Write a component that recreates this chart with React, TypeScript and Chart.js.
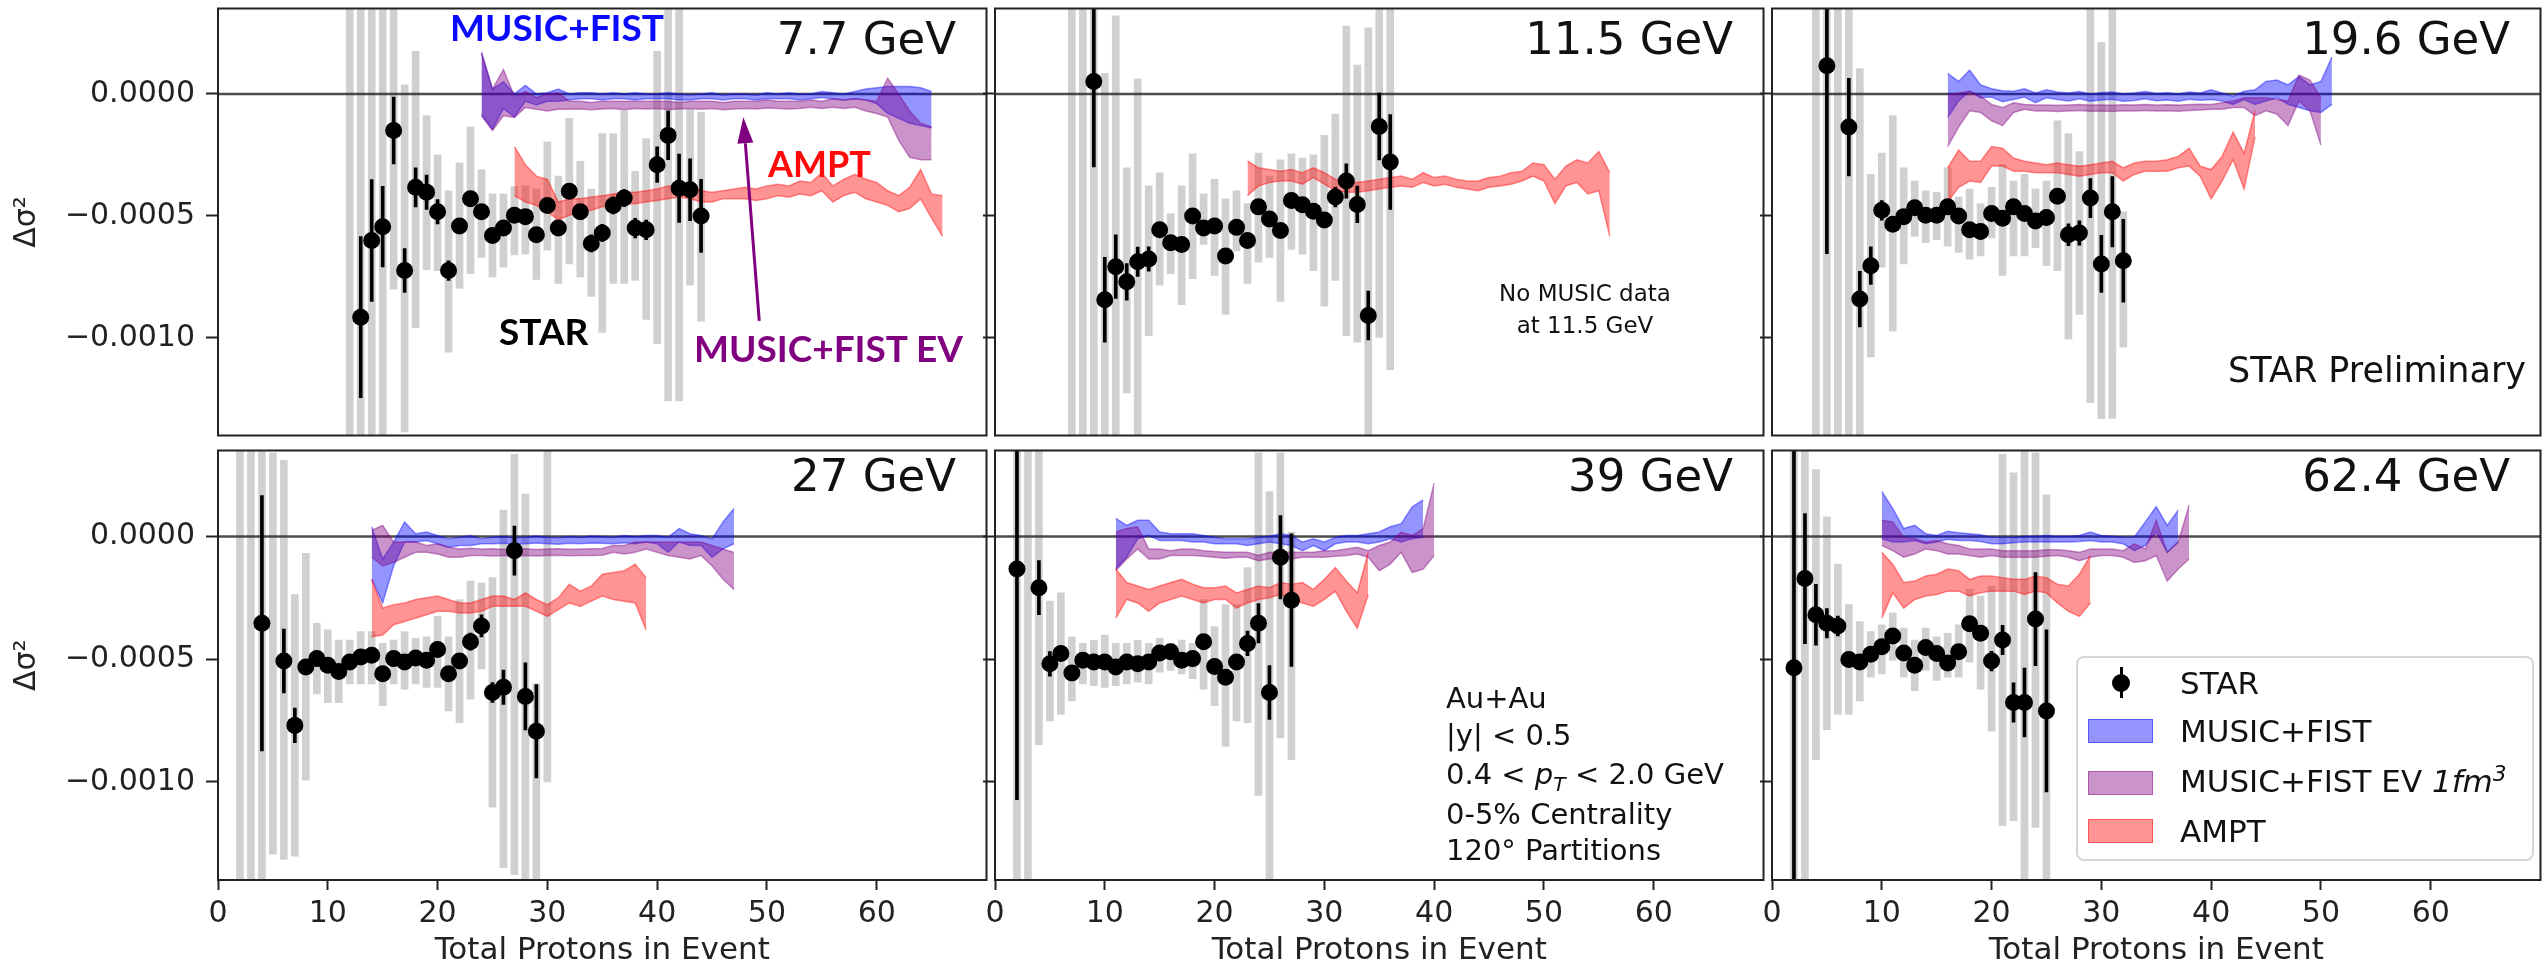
import React, { useEffect, useRef } from "react";
import { Chart, registerables } from "chart.js";
Chart.register(...registerables);

// ---------- axes ----------
const U = 1e-4; // all Δσ² values below are written in units of 1e-4
const X_TICKS = [0, 10, 20, 30, 40, 50, 60];
const Y_TICKS = [0, -0.0005, -0.001];
const X_RANGE = [0, 70];
const Y_RANGE = [-0.0014, 0.00035];

// ---------- 7.7 GeV ----------
const E77_X = [12,13,14,15,16,17,18,19,20,21,22,23,24,25,26,27,28,29,30,31,32,33,34,35,36,37,38,39,40,41,42,43,44];
const E77_Y = [null,-9.15,-6.01,-5.44,-1.5,-7.24,-3.83,-4.03,-4.83,-7.24,-5.41,-4.3,-4.83,-5.8,-5.5,-4.97,-5.03,-5.77,-4.57,-5.5,-3.99,-4.83,-6.13,-5.7,-4.57,-4.27,-5.5,-5.57,-2.9,-1.7,-3.87,-3.93,-5.0];
const E77_STAT = [0,3.3,2.5,1.65,1.37,0.9,0.8,0.7,0.5,0.4,0.3,0.3,0.3,0.3,0.3,0.3,0.3,0.3,0.3,0.3,0.3,0.3,0.35,0.35,0.35,0.35,0.4,0.4,0.73,1.0,1.4,1.27,1.5];
const E77_SYS_TOP = [3.5,3.5,3.5,3.5,3.5,0.37,1.74,-0.89,-2.5,-3.97,-2.83,-1.36,-3.1,-4.1,-4.1,-3.8,-3.77,-3.9,-1.96,-3.37,-1.0,-2.76,-3.9,-1.63,-1.63,-0.69,-3.17,-1.83,1.74,3.5,3.5,-0.63,-0.76];
const E77_SYS_BOT = [-14,-14,-14,-14,-8.0,-13.85,-9.58,-7.2,-7.24,-10.58,-7.97,-7.37,-6.7,-7.5,-7.1,-6.6,-6.57,-7.6,-6.4,-7.77,-6.97,-7.5,-8.3,-9.78,-7.77,-7.77,-7.64,-9.24,-10.24,-12.58,-12.58,-7.84,-9.31];
const E77_BLUE_START = 24;
const E77_BLUE_HI = [1.7,0.2,0.5,0.0,0.35,0.0,0.05,0.2,0.0,0.05,0.05,0.0,0.05,0.0,0.05,0.0,0.0,0.05,0.0,-0.05,0.0,0.05,-0.05,0.0,0.0,-0.05,0.05,0.0,0.05,0.0,0.0,0.1,0.05,0.0,0.1,0.2,0.25,0.3,0.3,0.3,0.25,0.1];
const E77_BLUE_LO = [-0.85,-1.45,-0.6,-0.95,-0.3,-0.45,-0.3,-0.3,-0.25,-0.2,-0.2,-0.25,-0.2,-0.2,-0.25,-0.2,-0.2,-0.2,-0.25,-0.25,-0.2,-0.2,-0.25,-0.2,-0.2,-0.25,-0.2,-0.2,-0.2,-0.25,-0.2,-0.15,-0.2,-0.25,-0.2,-0.25,-0.4,-0.8,-1.0,-1.2,-1.3,-1.4];
const E77_EV_START = 24;
const E77_EV_HI = [1.7,0.2,1.0,-0.1,0.1,-0.15,0.0,0.05,-0.3,-0.3,-0.35,-0.3,-0.3,-0.3,-0.3,-0.3,-0.3,-0.3,-0.35,-0.3,-0.3,-0.3,-0.35,-0.3,-0.3,-0.3,-0.25,-0.3,-0.3,-0.3,-0.25,-0.3,-0.2,-0.25,-0.2,-0.25,-0.3,0.64,0.0,-0.7,-1.2,-1.35];
const E77_EV_LO = [-0.9,-1.5,-0.9,-0.97,-0.56,-0.63,-0.7,-0.63,-0.63,-0.62,-0.65,-0.62,-0.6,-0.65,-0.6,-0.62,-0.6,-0.65,-0.62,-0.6,-0.63,-0.6,-0.65,-0.62,-0.6,-0.62,-0.58,-0.6,-0.62,-0.6,-0.55,-0.6,-0.55,-0.6,-0.55,-0.7,-0.8,-0.95,-1.9,-2.6,-2.7,-2.7];
const E77_AMPT_START = 27;
const E77_AMPT_HI = [-2.16,-2.9,-3.37,-3.5,-4.43,-4.3,-4.3,-4.23,-4.17,-4.1,-4.03,-4.03,-3.97,-3.9,-3.77,-3.77,-3.83,-3.97,-4.03,-3.97,-3.9,-3.83,-3.9,-3.77,-3.7,-3.77,-3.57,-3.63,-3.23,-3.77,-3.5,-3.3,-3.5,-3.63,-3.97,-4.17,-3.83,-3.1,-4.1,-4.17];
const E77_AMPT_LO = [-4.17,-4.43,-4.57,-4.83,-5.17,-4.97,-4.83,-4.77,-4.63,-4.57,-4.5,-4.5,-4.43,-4.37,-4.3,-4.23,-4.3,-4.43,-4.43,-4.3,-4.3,-4.3,-4.37,-4.3,-4.17,-4.23,-4.1,-4.17,-3.97,-4.43,-4.17,-4.03,-4.3,-4.43,-4.57,-4.83,-4.7,-4.3,-5.1,-5.84];

// ---------- 11.5 GeV ----------
const E115_X = [7,8,9,10,11,12,13,14,15,16,17,18,19,20,21,22,23,24,25,26,27,28,29,30,31,32,33,34,35,36];
const E115_Y = [null,null,0.51,-8.44,-7.08,-7.7,-6.88,-6.77,-5.57,-6.1,-6.17,-5.0,-5.5,-5.41,-6.64,-5.47,-6.01,-4.63,-5.13,-5.6,-4.37,-4.54,-4.81,-5.17,-4.23,-3.57,-4.53,-9.08,-1.34,-2.79];
const E115_STAT = [0,0,3.5,1.74,1.3,0.75,0.6,0.5,0.3,0.3,0.3,0.3,0.3,0.3,0.3,0.3,0.3,0.3,0.3,0.3,0.3,0.3,0.3,0.3,0.4,0.7,0.75,1.0,1.37,1.94];
const E115_SYS_TOP = [3.5,3.5,3.5,0.84,3.2,-3.03,0.61,-3.77,-3.23,-4.9,-3.77,-2.46,-4.1,-3.5,-4.3,-3.97,-4.5,-2.43,-3.37,-2.7,-2.46,-2.63,-2.5,-1.7,-0.83,2.78,1.18,2.71,3.5,3.5];
const E115_SYS_BOT = [-14,-14,-14,-14,-14,-12.25,-14,-9.91,-7.84,-7.37,-8.64,-7.57,-6.17,-7.44,-9.04,-6.44,-7.77,-6.9,-6.7,-8.5,-6.37,-6.57,-7.24,-8.7,-7.64,-9.91,-10.18,-14,-9.98,-11.3];
const E115_AMPT_START = 23;
const E115_AMPT_HI = [-2.74,-3.03,-3.1,-3.17,-3.1,-3.23,-3.03,-3.23,-3.5,-3.57,-3.63,-3.57,-3.5,-3.43,-3.37,-3.5,-3.23,-3.43,-3.37,-3.5,-3.57,-3.57,-3.43,-3.37,-3.23,-3.17,-2.83,-2.9,-3.5,-2.96,-2.7,-2.83,-2.36,-3.23];
const E115_AMPT_LO = [-4.17,-3.77,-3.63,-3.57,-3.57,-3.7,-3.43,-3.7,-3.97,-4.03,-4.03,-3.97,-3.9,-3.83,-3.77,-3.83,-3.63,-3.77,-3.7,-3.83,-3.9,-3.97,-3.83,-3.77,-3.7,-3.57,-3.37,-3.57,-4.5,-3.77,-3.63,-4.1,-3.97,-5.84];

// ---------- 19.6 GeV ----------
const E196_X = [4,5,6,7,8,9,10,11,12,13,14,15,16,17,18,19,20,21,22,23,24,25,26,27,28,29,30,31,32];
const E196_Y = [null,1.15,null,-1.36,-8.41,-7.04,-4.77,-5.34,-5.03,-4.67,-4.97,-4.97,-4.63,-5.0,-5.57,-5.64,-4.9,-5.1,-4.63,-4.9,-5.21,-5.07,-4.19,-5.77,-5.7,-4.27,-6.97,-4.83,-6.84];
const E196_STAT = [0,7.7,0,2.0,1.14,0.77,0.4,0.3,0.3,0.3,0.3,0.3,0.3,0.3,0.3,0.3,0.3,0.3,0.3,0.3,0.3,0.3,0.3,0.45,0.5,0.8,1.17,1.44,1.7];
const E196_SYS_TOP = [3.5,3.5,3.5,3.5,1.04,-3.3,-2.43,-0.89,-3.03,-3.57,-3.97,-4.03,-3.03,-4.23,-3.9,-4.5,-3.83,-2.9,-3.57,-3.3,-3.9,-3.57,-1.1,-1.63,-2.36,3.5,2.11,3.5,-4.83];
const E196_SYS_BOT = [-14,-14,-14,-14,-14,-10.78,-7.1,-9.71,-6.97,-5.84,-6.1,-5.97,-6.24,-6.5,-6.77,-6.64,-5.9,-7.44,-6.64,-6.64,-6.3,-7.04,-7.24,-10.04,-9.04,-12.65,-13.31,-13.3,-10.38];
const E196_BLUE_START = 16;
const E196_BLUE_HI = [0.84,0.51,0.97,0.37,0.21,0.13,0.11,0.21,0.04,0.17,0.08,0.04,0.1,0.0,0.05,0.08,0.0,0.04,0.1,0.02,0.05,0.0,0.08,0.04,0.17,0.04,-0.09,0.11,0.17,0.51,0.57,0.37,0.71,0.37,0.51,1.51];
const E196_BLUE_LO = [-0.96,-0.29,0.11,-0.16,-0.13,-0.32,-0.23,-0.13,-0.36,-0.16,-0.23,-0.29,-0.2,-0.3,-0.25,-0.22,-0.3,-0.27,-0.2,-0.28,-0.25,-0.3,-0.22,-0.26,-0.23,-0.29,-0.43,-0.23,-0.43,-0.29,-0.16,-0.43,-0.56,-0.69,-0.76,-0.43];
const E196_EV_START = 16;
const E196_EV_HI = [-0.03,0.04,0.11,-0.09,-0.43,-0.56,-0.36,-0.43,-0.45,-0.45,-0.47,-0.45,-0.43,-0.46,-0.45,-0.47,-0.44,-0.45,-0.43,-0.45,-0.44,-0.46,-0.43,-0.42,-0.43,-0.36,-0.29,-0.16,-0.16,-0.16,-0.23,-0.29,0.77,0.57,-0.16];
const E196_EV_LO = [-2.16,-1.36,-0.69,-0.76,-1.1,-1.3,-0.76,-0.63,-0.7,-0.7,-0.72,-0.7,-0.68,-0.71,-0.7,-0.72,-0.69,-0.7,-0.68,-0.7,-0.69,-0.71,-0.68,-0.66,-0.63,-0.63,-0.56,-0.56,-0.89,-0.69,-0.83,-1.3,-0.29,-0.69,-2.1];
const E196_AMPT_START = 16;
const E196_AMPT_HI = [-3.03,-2.3,-2.76,-2.76,-2.16,-2.23,-2.63,-2.76,-2.83,-2.9,-2.83,-2.9,-2.96,-2.9,-2.83,-2.76,-3.03,-2.83,-2.76,-2.76,-2.7,-2.56,-2.23,-2.96,-3.1,-2.56,-1.56,-2.43,-0.69];
const E196_AMPT_LO = [-4.43,-3.83,-3.57,-3.63,-2.96,-2.96,-3.17,-3.17,-3.23,-3.23,-3.23,-3.3,-3.37,-3.3,-3.23,-3.23,-3.57,-3.3,-3.17,-3.17,-3.17,-3.03,-2.96,-3.37,-4.3,-3.57,-2.7,-3.9,-1.76];

// ---------- 27 GeV ----------
const E27_X = [2,3,4,5,6,7,8,9,10,11,12,13,14,15,16,17,18,19,20,21,22,23,24,25,26,27,28,29,30];
const E27_Y = [null,null,-3.54,null,-5.08,-7.7,-5.32,-4.98,-5.25,-5.5,-5.12,-4.91,-4.84,-5.6,-4.98,-5.12,-4.95,-5.05,-4.61,-5.6,-5.08,-4.29,-3.65,-6.36,-6.15,-0.58,-6.52,-7.94,null];
const E27_STAT = [0,0,5.2,0,1.3,0.7,0.3,0.3,0.3,0.3,0.3,0.3,0.3,0.3,0.3,0.3,0.3,0.3,0.3,0.3,0.3,0.35,0.45,0.4,0.7,1.0,1.37,1.9,0];
const E27_SYS_TOP = [3.5,3.5,3.5,3.41,3.1,-2.37,-0.69,-3.54,-3.81,-4.22,-4.22,-3.88,-3.88,-4.36,-4.22,-3.88,-4.15,-4.09,-3.26,-4.09,-2.57,-1.82,-1.9,-1.68,1.07,3.34,1.72,-6.01,3.48];
const E27_SYS_BOT = [-14,-14,-14,-12.95,-13.16,-13.03,-9.93,-6.42,-6.77,-6.77,-6.01,-6.01,-6.01,-6.9,-6.01,-6.22,-6.01,-6.15,-6.15,-7.11,-7.59,-6.63,-5.4,-11.03,-13.5,-13.78,-14,-14,-10.0];
const E27_BLUE_START = 14;
const E27_BLUE_HI = [0.39,-0.92,-0.23,0.59,0.11,0.18,0.04,-0.1,-0.03,0.04,-0.1,-0.03,0.0,-0.05,-0.03,0.02,-0.03,-0.05,0.0,-0.03,0.02,0.0,-0.03,0.04,0.0,0.04,0.04,-0.03,0.32,0.11,0.04,-0.1,0.59,1.14];
const E27_BLUE_LO = [-1.75,-2.71,-1.2,-0.23,-0.23,-0.17,-0.3,-0.44,-0.37,-0.37,-0.3,-0.3,-0.28,-0.32,-0.3,-0.27,-0.3,-0.32,-0.28,-0.3,-0.27,-0.28,-0.3,-0.26,-0.3,-0.23,-0.3,-0.65,-0.23,-0.37,-0.37,-0.85,-0.51,-0.3];
const E27_EV_START = 14;
const E27_EV_HI = [0.25,0.45,-0.23,-0.23,-0.23,-0.37,-0.3,-0.44,-0.51,-0.48,-0.51,-0.5,-0.52,-0.51,-0.5,-0.53,-0.51,-0.5,-0.52,-0.51,-0.5,-0.49,-0.37,-0.37,-0.23,-0.23,-0.23,-0.23,-0.23,-0.23,-0.23,-0.37,-0.51,-0.65];
const E27_EV_LO = [-0.85,-1.2,-1.06,-0.85,-0.65,-0.65,-0.72,-0.85,-0.85,-0.78,-0.78,-0.8,-0.78,-0.79,-0.78,-0.8,-0.78,-0.77,-0.79,-0.78,-0.78,-0.77,-0.65,-0.72,-0.65,-0.51,-0.65,-0.78,-0.85,-0.92,-0.78,-1.2,-1.75,-2.16];
const E27_AMPT_START = 14;
const E27_AMPT_HI = [-1.75,-2.92,-2.78,-2.71,-2.57,-2.5,-2.43,-2.57,-2.71,-2.71,-2.57,-2.43,-2.43,-2.57,-2.3,-2.57,-2.78,-2.5,-1.95,-2.23,-2.02,-1.54,-1.47,-1.4,-1.13,-1.68];
const E27_AMPT_LO = [-4.09,-4.02,-3.6,-3.47,-3.33,-3.19,-3.05,-3.05,-3.12,-3.12,-3.05,-2.85,-2.85,-2.85,-2.85,-3.05,-3.26,-2.98,-2.71,-2.85,-2.64,-2.43,-2.57,-2.64,-2.71,-3.81];

// ---------- 39 GeV ----------
const E39_X = [2,3,4,5,6,7,8,9,10,11,12,13,14,15,16,17,18,19,20,21,22,23,24,25,26,27];
const E39_Y = [-1.33,null,-2.09,-5.19,-4.77,-5.57,-5.05,-5.12,-5.12,-5.32,-5.12,-5.19,-5.12,-4.75,-4.7,-5.05,-4.98,-4.29,-5.3,-5.74,-5.12,-4.36,-3.54,-6.36,-0.85,-2.6];
const E39_STAT = [9.4,0,1.1,0.5,0.3,0.3,0.3,0.3,0.3,0.3,0.3,0.3,0.3,0.3,0.3,0.3,0.3,0.3,0.3,0.3,0.3,0.5,0.8,1.1,1.7,2.7];
const E39_SYS_TOP = [3.5,3.5,3.48,-2.64,-2.3,-4.09,-4.36,-4.23,-4.02,-4.36,-4.36,-4.23,-4.36,-4.15,-4.36,-4.22,-4.36,-2.57,-3.67,-2.78,-2.78,-1.27,3.41,1.83,3.41,0.18];
const E39_SYS_BOT = [-14,-14,-8.49,-7.52,-7.25,-6.7,-6.01,-6.08,-6.15,-6.08,-6.01,-5.94,-6.01,-5.53,-5.46,-5.6,-5.8,-6.22,-6.9,-8.56,-7.52,-7.59,-10.55,-14,-8.21,-9.1];
const E39_BLUE_START = 11;
const E39_BLUE_HI = [0.73,0.45,0.66,0.66,0.18,0.11,0.11,0.11,0.04,-0.03,-0.1,-0.1,-0.1,-0.03,0.01,0.11,0.04,-0.23,-0.1,-0.23,-0.03,0.04,0.04,0.11,0.18,0.39,0.52,1.21,1.49];
const E39_BLUE_LO = [-1.33,-0.85,-0.1,0.04,-0.17,-0.17,-0.17,-0.23,-0.23,-0.3,-0.3,-0.3,-0.37,-0.3,-0.23,-0.3,-0.37,-0.58,-0.37,-0.58,-0.3,-0.23,-0.23,-0.3,-0.23,-0.1,-0.23,-0.1,-0.03];
const E39_EV_START = 11;
const E39_EV_HI = [0.18,0.32,0.39,-0.51,-0.51,-0.58,-0.51,-0.51,-0.58,-0.62,-0.65,-0.65,-0.65,-0.78,-0.65,-0.67,-0.65,-0.65,-0.65,-0.58,-0.58,-0.51,-0.44,-0.58,-0.37,-0.23,0.18,0.04,0.32,2.17];
const E39_EV_LO = [-1.4,-0.92,-0.51,-0.92,-0.92,-0.78,-0.78,-0.78,-0.81,-0.85,-0.89,-0.85,-0.85,-0.99,-0.92,-0.92,-0.92,-0.85,-0.85,-0.85,-0.81,-0.78,-0.72,-0.85,-1.4,-1.13,-0.65,-1.47,-1.33,-0.78];
const E39_AMPT_START = 11;
const E39_AMPT_HI = [-1.33,-1.88,-2.02,-2.16,-2.02,-1.88,-1.75,-1.95,-2.09,-2.09,-2.02,-2.3,-2.16,-2.02,-2.09,-1.88,-1.95,-1.88,-2.16,-1.75,-1.27,-1.82,-2.3,-0.65];
const E39_AMPT_LO = [-3.33,-2.57,-2.71,-3.05,-2.71,-2.57,-2.43,-2.57,-2.71,-2.57,-2.57,-2.92,-2.71,-2.57,-2.5,-2.37,-2.57,-2.71,-2.85,-2.57,-2.23,-3.05,-3.74,-2.37];

// ---------- 62.4 GeV ----------
const E624_X = [2,3,4,5,6,7,8,9,10,11,12,13,14,15,16,17,18,19,20,21,22,23,24,25];
const E624_Y = [-5.35,-1.72,-3.19,-3.54,-3.65,-5.02,-5.12,-4.8,-4.5,-4.06,-4.75,-5.25,-4.53,-4.77,-5.16,-4.7,-3.56,-3.95,-5.08,-4.22,-6.77,-6.77,-3.37,-7.11];
const E624_STAT = [9.0,2.65,1.24,0.6,0.4,0.3,0.3,0.3,0.3,0.3,0.3,0.3,0.3,0.3,0.3,0.3,0.3,0.3,0.4,0.6,0.8,1.4,1.9,3.3];
const E624_SYS_TOP = [3.5,3.5,2.72,0.8,-1.13,-2.78,-3.47,-3.88,-3.6,-3.12,-3.74,-4.22,-3.74,-4.09,-3.95,-3.6,-2.16,-2.43,-2.02,3.34,2.59,3.5,3.41,1.69];
const E624_SYS_BOT = [-14,-14,-9.1,-7.87,-7.25,-7.25,-6.7,-5.74,-5.6,-5.05,-5.74,-6.29,-5.46,-5.87,-5.74,-5.74,-5.12,-6.22,-7.94,-11.79,-11.58,-14,-11.86,-14];
const E624_BLUE_START = 10;
const E624_BLUE_HI = [1.83,1.14,0.32,0.45,0.11,0.04,0.21,0.15,0.11,0.07,-0.03,-0.03,-0.03,0.01,0.01,0.04,0.01,0.01,0.04,0.18,0.04,0.01,-0.03,-0.03,0.59,1.21,0.45,1.07];
const E624_BLUE_LO = [-0.1,-0.23,-0.23,-0.17,-0.3,-0.23,-0.12,-0.17,-0.17,-0.21,-0.3,-0.3,-0.26,-0.23,-0.23,-0.23,-0.23,-0.23,-0.21,-0.17,-0.23,-0.23,-0.3,-0.58,-0.37,0.18,-0.65,-0.23];
const E624_EV_START = 10;
const E624_EV_HI = [0.66,0.59,-0.03,-0.1,-0.23,-0.17,-0.3,-0.37,-0.51,-0.51,-0.51,-0.58,-0.58,-0.58,-0.58,-0.54,-0.54,-0.58,-0.65,-0.51,-0.51,-0.51,-0.58,-0.3,-0.51,0.66,-0.65,-0.23,1.28];
const E624_EV_LO = [-0.37,-0.58,-0.85,-0.72,-0.51,-0.58,-0.72,-0.72,-0.78,-0.85,-0.78,-0.85,-0.85,-0.85,-0.85,-0.81,-0.78,-0.85,-0.99,-0.85,-0.78,-0.78,-0.85,-1.06,-0.99,-0.78,-1.82,-1.33,-0.92];
const E624_AMPT_START = 10;
const E624_AMPT_HI = [-0.65,-1.13,-1.88,-1.82,-1.61,-1.54,-1.33,-1.4,-1.75,-1.61,-1.61,-1.68,-1.75,-1.75,-1.61,-1.68,-1.95,-2.02,-1.54,-0.78];
const E624_AMPT_LO = [-3.33,-2.3,-2.92,-2.57,-2.43,-2.37,-2.23,-2.23,-2.43,-2.3,-2.23,-2.23,-2.23,-2.37,-2.23,-2.3,-2.71,-3.05,-3.26,-2.71];

// annotation arrow in 7.7 GeV panel (x, Δσ²/1e-4)
const ARROW_FROM = [49.3, -9.3];
const ARROW_TO = [47.85, -0.96];

// ---------- styles ----------
const BLUE = "rgba(0,0,255,0.42)";
const PURPLE = "rgba(128,0,128,0.42)";
const RED = "rgba(255,0,0,0.42)";
const SYS_GREY = "rgba(150,150,150,0.45)";
const DEJAVU = "'DejaVu Sans', sans-serif";
const LATO = "Lato, 'Open Sans', sans-serif";

Chart.defaults.font.family = DEJAVU;

type Band = { start: number; hi: number[]; lo: number[]; color: string; order: number };
type PanelDef = {
  label: string; x: number[]; y: (number | null)[]; stat: number[];
  sysTop: number[]; sysBot: number[]; bands: Band[]; row: number; col: number;
};

const band = (start: number, hi: number[], lo: number[], color: string, order: number): Band =>
  ({ start, hi, lo, color, order });

const PANELS: PanelDef[] = [
  { label: "7.7 GeV", x: E77_X, y: E77_Y, stat: E77_STAT, sysTop: E77_SYS_TOP, sysBot: E77_SYS_BOT, row: 0, col: 0,
    bands: [band(E77_BLUE_START, E77_BLUE_HI, E77_BLUE_LO, BLUE, 8), band(E77_EV_START, E77_EV_HI, E77_EV_LO, PURPLE, 7), band(E77_AMPT_START, E77_AMPT_HI, E77_AMPT_LO, RED, 6)] },
  { label: "11.5 GeV", x: E115_X, y: E115_Y, stat: E115_STAT, sysTop: E115_SYS_TOP, sysBot: E115_SYS_BOT, row: 0, col: 1,
    bands: [band(E115_AMPT_START, E115_AMPT_HI, E115_AMPT_LO, RED, 6)] },
  { label: "19.6 GeV", x: E196_X, y: E196_Y, stat: E196_STAT, sysTop: E196_SYS_TOP, sysBot: E196_SYS_BOT, row: 0, col: 2,
    bands: [band(E196_BLUE_START, E196_BLUE_HI, E196_BLUE_LO, BLUE, 8), band(E196_EV_START, E196_EV_HI, E196_EV_LO, PURPLE, 7), band(E196_AMPT_START, E196_AMPT_HI, E196_AMPT_LO, RED, 6)] },
  { label: "27 GeV", x: E27_X, y: E27_Y, stat: E27_STAT, sysTop: E27_SYS_TOP, sysBot: E27_SYS_BOT, row: 1, col: 0,
    bands: [band(E27_BLUE_START, E27_BLUE_HI, E27_BLUE_LO, BLUE, 8), band(E27_EV_START, E27_EV_HI, E27_EV_LO, PURPLE, 7), band(E27_AMPT_START, E27_AMPT_HI, E27_AMPT_LO, RED, 6)] },
  { label: "39 GeV", x: E39_X, y: E39_Y, stat: E39_STAT, sysTop: E39_SYS_TOP, sysBot: E39_SYS_BOT, row: 1, col: 1,
    bands: [band(E39_BLUE_START, E39_BLUE_HI, E39_BLUE_LO, BLUE, 8), band(E39_EV_START, E39_EV_HI, E39_EV_LO, PURPLE, 7), band(E39_AMPT_START, E39_AMPT_HI, E39_AMPT_LO, RED, 6)] },
  { label: "62.4 GeV", x: E624_X, y: E624_Y, stat: E624_STAT, sysTop: E624_SYS_TOP, sysBot: E624_SYS_BOT, row: 1, col: 2,
    bands: [band(E624_BLUE_START, E624_BLUE_HI, E624_BLUE_LO, BLUE, 8), band(E624_EV_START, E624_EV_HI, E624_EV_LO, PURPLE, 7), band(E624_AMPT_START, E624_AMPT_HI, E624_AMPT_LO, RED, 6)] },
];

// ---------- layout ----------
const PLOT_W = 777;
const LEFT0 = 218;
const ROW_TOP = [5, 442];
const ROW_H = [437, 438];

function buildDatasets(p: PanelDef) {
  const ds: any[] = [];
  ds.push({
    type: "bar", data: p.x.map((x, i) => ({ x, y: [p.sysBot[i] * U, p.sysTop[i] * U] })),
    backgroundColor: SYS_GREY, borderWidth: 0, barThickness: 7, grouped: false, order: 10,
  });
  ds.push({
    type: "line", data: [{ x: X_RANGE[0], y: 0 }, { x: X_RANGE[1], y: 0 }],
    borderColor: "rgba(45,45,45,0.85)", borderWidth: 2.5, pointRadius: 0, showLine: true, fill: false, order: 9,
  });
  p.bands.forEach((b) => {
    ds.push({
      type: "line", data: b.lo.map((v, i) => ({ x: b.start + i, y: v * U })),
      borderColor: b.color, backgroundColor: b.color, borderWidth: 1.5, pointRadius: 0,
      showLine: true, fill: false, tension: 0, order: b.order,
    });
    ds.push({
      type: "line", data: b.hi.map((v, i) => ({ x: b.start + i, y: v * U })),
      borderColor: b.color, backgroundColor: b.color, borderWidth: 1.5, pointRadius: 0,
      showLine: true, fill: "-1", tension: 0, order: b.order,
    });
  });
  const stat: any[] = [];
  const pts: any[] = [];
  p.x.forEach((x, i) => {
    const y = p.y[i];
    if (y === null) return;
    stat.push({ x, y: [(y - p.stat[i]) * U, (y + p.stat[i]) * U] });
    pts.push({ x, y: y * U });
  });
  ds.push({ type: "bar", data: stat, backgroundColor: "#000", borderWidth: 0, barThickness: 3, grouped: false, order: 2 });
  ds.push({ type: "scatter", data: pts, backgroundColor: "#000", borderWidth: 0, pointRadius: 8.5, order: 1 });
  return ds;
}

const framePlugin = {
  id: "frame",
  afterDatasetsDraw(chart: any) {
    const { ctx, chartArea: a } = chart;
    ctx.save();
    ctx.strokeStyle = "#222";
    ctx.lineWidth = 2;
    ctx.strokeRect(a.left, a.top, a.right - a.left, a.bottom - a.top);
    ctx.restore();
  },
};

const arrowPlugin = {
  id: "arrow",
  afterDatasetsDraw(chart: any) {
    const { ctx, scales } = chart;
    const x0 = scales.x.getPixelForValue(ARROW_FROM[0]);
    const y0 = scales.y.getPixelForValue(ARROW_FROM[1] * U);
    const x1 = scales.x.getPixelForValue(ARROW_TO[0]);
    const y1 = scales.y.getPixelForValue(ARROW_TO[1] * U);
    const ang = Math.atan2(y1 - y0, x1 - x0);
    const hl = 26, hw = 8;
    const bx = x1 - hl * Math.cos(ang), by = y1 - hl * Math.sin(ang);
    ctx.save();
    ctx.strokeStyle = "#800080";
    ctx.fillStyle = "#800080";
    ctx.lineWidth = 3;
    ctx.beginPath();
    ctx.moveTo(x0, y0);
    ctx.lineTo(bx, by);
    ctx.stroke();
    ctx.beginPath();
    ctx.moveTo(x1, y1);
    ctx.lineTo(bx + hw * Math.sin(ang), by - hw * Math.cos(ang));
    ctx.lineTo(bx - hw * Math.sin(ang), by + hw * Math.cos(ang));
    ctx.closePath();
    ctx.fill();
    ctx.restore();
  },
};

const zeroPad = (s: any) => { s.paddingTop = 0; s.paddingBottom = 0; s.paddingLeft = 0; s.paddingRight = 0; };

function PanelChart({ p }: { p: PanelDef }) {
  const ref = useRef<HTMLCanvasElement>(null);
  const { row, col } = p;
  const leftM = col === 0 ? LEFT0 : 12;
  const topM = row === 0 ? ROW_TOP[0] : 0;
  const botM = row === 1 ? 90 : 2;
  const w = leftM + PLOT_W;
  const h = topM + ROW_H[row] + botM;
  const left = LEFT0 + col * PLOT_W - leftM;
  const top = row === 0 ? 0 : ROW_TOP[1];

  useEffect(() => {
    const chart = new Chart(ref.current as HTMLCanvasElement, {
      type: "scatter",
      data: { datasets: buildDatasets(p) },
      plugins: p.label === "7.7 GeV" ? [framePlugin, arrowPlugin] : [framePlugin],
      options: {
        animation: false,
        responsive: false,
        devicePixelRatio: 1,
        events: [],
        layout: { padding: { top: topM, left: 0, right: 0, bottom: 0 } },
        plugins: { legend: { display: false }, tooltip: { enabled: false } },
        scales: {
          x: {
            type: "linear", min: X_RANGE[0], max: X_RANGE[1], offset: false,
            afterBuildTicks: (s: any) => { s.ticks = X_TICKS.map((v) => ({ value: v })); },
            afterFit: (s: any) => { s.height = botM; zeroPad(s); },
            grid: { display: row === 1, offset: false, drawOnChartArea: false, drawTicks: true, tickLength: 10, tickWidth: 2, tickColor: "#222" },
            border: { display: false },
            ticks: { display: row === 1, font: { size: 30 }, color: "#222", padding: 6, autoSkip: false, maxRotation: 0 },
            title: { display: row === 1, text: "Total Protons in Event", font: { size: 31 }, color: "#222", padding: { top: 0, bottom: 0 } },
          },
          y: {
            type: "linear", min: Y_RANGE[0], max: Y_RANGE[1], offset: false,
            afterBuildTicks: (s: any) => { s.ticks = Y_TICKS.map((v) => ({ value: v })); },
            afterFit: (s: any) => { s.width = leftM; zeroPad(s); },
            grid: { display: true, offset: false, drawOnChartArea: false, drawTicks: true, tickLength: 12, tickWidth: 2, tickColor: "#222" },
            border: { display: false },
            ticks: {
              display: col === 0, font: { size: 30 }, color: "#222", padding: 11, autoSkip: false,
              callback: (v: any) => (Number(v) === 0 ? "0.0000" : "\u2212" + Math.abs(Number(v)).toFixed(4)),
            },
            title: { display: col === 0, text: "Δσ²", font: { size: 30 }, color: "#222", padding: { top: 9, bottom: 0 } },
          },
        },
      } as any,
    });
    return () => chart.destroy();
  }, []);

  return (
    <canvas ref={ref} width={w} height={h}
      style={{ position: "absolute", left, top, width: w, height: h }} />
  );
}

// text helper: y is the vertical centre of the capitals
function Txt({ x, y, size, family = DEJAVU, weight = 400, color = "#111", align = "left", cap = 0.48, children }: any) {
  const tx = align === "right" ? "-100%" : align === "center" ? "-50%" : "0";
  return (
    <div style={{
      position: "absolute", left: x, top: y - cap * size, fontFamily: family, fontSize: size,
      fontWeight: weight, color, lineHeight: `${size}px`, whiteSpace: "nowrap", transform: `translateX(${tx})`,
    }}>{children}</div>
  );
}

function Legend() {
  const L = 2076, T = 656;
  const patch = (cy: number, color: string) => (
    <div style={{ position: "absolute", left: 2088, top: cy - 12, width: 65, height: 24, background: color, border: `1.5px solid ${color}`, boxSizing: "border-box" }} />
  );
  return (
    <>
      <div style={{ position: "absolute", left: L, top: T, width: 458, height: 205, border: "2px solid #d6d6d6", borderRadius: 8, background: "rgba(255,255,255,0.8)", boxSizing: "border-box" }} />
      <div style={{ position: "absolute", left: 2119.5, top: 667, width: 3, height: 31, background: "#000" }} />
      <div style={{ position: "absolute", left: 2112, top: 674, width: 18, height: 18, borderRadius: 9, background: "#000" }} />
      {patch(731, BLUE)}
      {patch(783, PURPLE)}
      {patch(831, RED)}
      <Txt x={2180} y={683} size={31}>STAR</Txt>
      <Txt x={2180} y={731} size={31}>MUSIC+FIST</Txt>
      <Txt x={2180} y={781} size={31}>MUSIC+FIST EV <i>1fm</i><sup style={{ fontSize: "70%", fontStyle: "italic", lineHeight: 0 }}>3</sup></Txt>
      <Txt x={2180} y={831} size={31}>AMPT</Txt>
    </>
  );
}

export default function App() {
  return (
    <div style={{ position: "absolute", left: 0, top: 0, width: 2545, height: 970, overflow: "hidden", background: "#fff" }}>
      {PANELS.map((p) => <PanelChart key={p.label} p={p} />)}
      {PANELS.map((p) => (
        <Txt key={"l" + p.label} x={LEFT0 + (p.col + 1) * PLOT_W - 39} y={ROW_TOP[p.row] + 32.5} size={45} align="right">{p.label}</Txt>
      ))}
      <Txt x={450} y={28} size={37} family={LATO} weight={700} color="#0a0aff" cap={0.53}>MUSIC+FIST</Txt>
      <Txt x={768} y={164.5} size={36} family={LATO} weight={700} color="#ff0a0a" cap={0.53}>AMPT</Txt>
      <Txt x={499} y={331.5} size={37} family={LATO} weight={700} color="#000" cap={0.53}>STAR</Txt>
      <Txt x={694} y={348.5} size={37} family={LATO} weight={700} color="#800080" cap={0.53}>MUSIC+FIST EV</Txt>
      <Txt x={1585} y={293} size={23} align="center">No MUSIC data</Txt>
      <Txt x={1585} y={325} size={23} align="center">at 11.5 GeV</Txt>
      <Txt x={2526} y={370} size={35} align="right">STAR Preliminary</Txt>
      <Txt x={1446} y={698} size={29}>Au+Au</Txt>
      <Txt x={1446} y={735} size={29}>|y| &lt; 0.5</Txt>
      <Txt x={1446} y={774} size={29}>0.4 &lt; <i>p</i><sub style={{ fontSize: "70%", fontStyle: "italic", lineHeight: 0 }}>T</sub> &lt; 2.0 GeV</Txt>
      <Txt x={1446} y={814} size={29}>0-5% Centrality</Txt>
      <Txt x={1446} y={850} size={29}>120° Partitions</Txt>
      <Legend />
    </div>
  );
}
